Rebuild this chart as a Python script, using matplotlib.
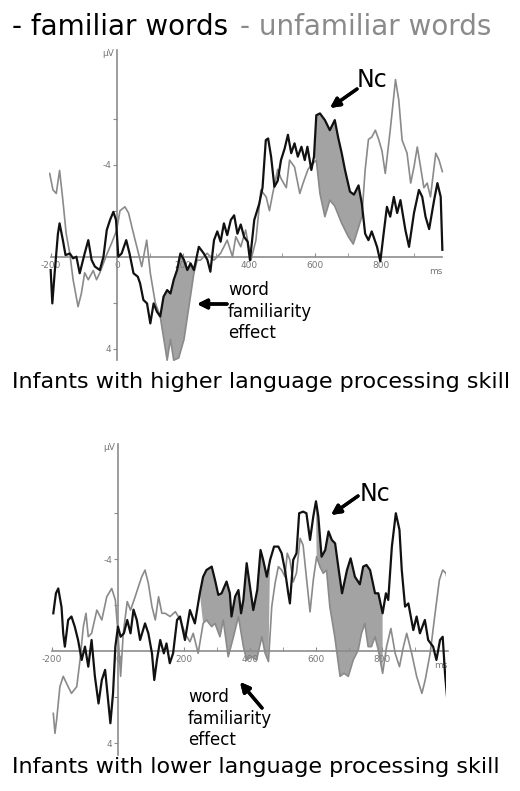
import numpy as np
import matplotlib
matplotlib.use("Agg")
import matplotlib.pyplot as plt

plt.rcParams['font.family'] = ['DejaVu Sans']

# ---- data (ms, microvolts; negative is drawn upwards) ----
# higher language processing skill
hi_fam_t = [-201, -196, -189, -179, -174, -164, -156, -143, -133, -123, -113, -98, -87, -77, -67, -52, -41, -31,
            -21, -11, -3, 4, 14, 28, 38, 50, 63, 70, 80, 91, 101, 111, 121, 131, 141, 152, 162, 172, 182, 192,
            203, 213, 223, 233, 248, 263, 274, 283, 294, 304, 314, 324, 334, 345, 355, 365, 375, 385, 396, 403,
            416, 431, 441, 451, 458, 467, 477, 487, 497, 508, 518, 528, 538, 548, 559, 569, 577, 589, 597, 604,
            615, 630, 645, 660, 670, 681, 691, 706, 718, 732, 742, 752, 762, 772, 788, 798, 808, 818, 828, 839,
            849, 859, 874, 885, 900, 915, 925, 935, 946, 961, 971, 981, 986]
hi_fam_v = [0.58, 2.03, 0.72, -1.0, -1.45, -0.72, -0.07, -0.14, 0.07, 0.0, 0.72, -0.14, -0.72, 0.14, 0.43, 0.58,
            0.0, -1.16, -1.6, -1.95, -1.6, 0.0, -0.14, -0.72, -0.14, 0.72, 0.87, 1.16, 1.88, 2.03, 2.9, 2.03, 2.39,
            2.6, 1.74, 1.45, 1.6, 1.0, 0.58, -0.14, 0.14, 0.58, 0.29, 0.58, -0.43, -0.14, 0.14, 0.65, -0.72, -1.1,
            -0.65, -1.45, -0.94, -1.6, -1.8, -1.0, -1.4, -0.87, -0.65, 0.15, -1.6, -2.3, -3.0, -5.07, -5.14, -4.35,
            -3.04, -3.3, -4.2, -4.7, -5.3, -4.5, -4.93, -4.35, -4.78, -4.2, -4.78, -3.77, -4.35, -6.15, -6.23,
            -5.94, -5.5, -5.94, -5.2, -4.5, -3.77, -2.83, -2.7, -3.1, -2.3, -1.0, -0.72, -1.1, -0.43, 0.2, -1.0,
            -2.17, -1.74, -2.6, -1.9, -2.46, -1.16, -0.43, -1.9, -2.9, -2.6, -1.74, -1.2, -2.46, -3.2, -2.6, -0.3]
hi_unf_t = [-204, -194, -184, -174, -164, -154, -143, -133, -118, -108, -98, -87, -72, -62, -52, -31, -16, -1, 9,
            24, 35, 45, 55, 65, 75, 90, 101, 116, 131, 152, 162, 172, 187, 203, 218, 233, 243, 253, 273, 294, 314,
            334, 350, 360, 375, 390, 406, 421, 436, 452, 462, 472, 487, 497, 513, 523, 538, 554, 564, 579, 594,
            604, 615, 630, 645, 660, 681, 701, 716, 726, 742, 752, 762, 772, 783, 793, 803, 813, 828, 844, 854,
            864, 879, 890, 900, 910, 920, 930, 940, 950, 966, 976, 986]
hi_unf_v = [-3.62, -2.9, -2.75, -3.75, -2.45, -1.0, -0.14, 1.0, 2.17, 1.6, 0.7, 1.0, 0.6, 1.0, 0.7, -0.1, -0.6,
            -1.15, -2.0, -2.17, -1.9, -1.3, -0.72, -0.15, 0.43, -0.72, 0.72, 2.0, 2.6, 4.5, 3.6, 4.5, 4.4, 3.6,
            2.17, 0.72, 0.15, 0.15, -0.15, 0.15, -0.15, -0.72, 0.0, -0.87, -0.43, -1.16, 0.15, -0.72, -2.9, -2.6,
            -2.0, -2.75, -3.8, -3.4, -3.0, -4.2, -3.9, -2.75, -3.2, -3.8, -4.06, -4.2, -2.75, -1.74, -2.46, -2.2,
            -1.45, -0.87, -0.55, -1.0, -1.74, -3.77, -5.1, -5.2, -5.5, -5.1, -4.6, -3.62, -5.5, -7.7, -6.8, -5.07,
            -4.5, -3.2, -3.9, -4.77, -3.9, -3.0, -3.2, -2.6, -4.5, -4.2, -3.7]

# lower language processing skill
lo_fam_t = [-196, -188, -181, -171, -166, -161, -151, -141, -131, -121, -110, -100, -90, -80, -70, -59, -49, -39,
            -28, -23, -15, -8, 0, 8, 18, 28, 38, 47, 57, 67, 82, 92, 103, 110, 118, 128, 139, 147, 157, 167, 179,
            188, 203, 218, 233, 248, 258, 268, 284, 294, 304, 314, 329, 339, 344, 355, 365, 373, 380, 390, 400,
            410, 422, 432, 440, 451, 461, 473, 486, 496, 506, 516, 521, 531, 541, 549, 561, 571, 582, 592, 600,
            607, 617, 628, 638, 648, 658, 669, 679, 694, 705, 718, 733, 743, 753, 764, 779, 789, 802, 812, 819,
            830, 842, 853, 860, 870, 880, 895, 905, 915, 930, 940, 955, 965, 976, 984, 991, 998]
lo_fam_v = [-1.64, -2.51, -2.72, -1.9, -0.77, -0.19, -1.35, -1.5, -1.06, -0.48, 0.39, -0.19, 0.68, -0.48, 1.1,
            2.28, 1.26, 0.82, 2.42, 3.14, 1.84, -0.19, -1.06, -0.62, -0.77, -1.35, -0.77, -1.8, -1.35, -0.48,
            -1.2, -0.77, 0.1, 1.26, 0.39, -0.48, 0.1, -0.33, 0.53, 0.1, -1.35, -1.5, -0.48, -1.78, -1.2, -2.51,
            -3.23, -3.52, -3.67, -3.09, -2.44, -2.51, -3.02, -2.51, -1.5, -2.37, -2.65, -1.64, -2.22, -3.82, -2.8,
            -1.78, -2.65, -4.39, -3.96, -3.23, -3.96, -4.54, -4.54, -4.25, -3.52, -2.51, -2.07, -3.96, -4.25,
            -5.99, -6.06, -5.99, -4.83, -5.86, -6.51, -5.86, -4.1, -4.39, -5.2, -4.83, -4.68, -3.52, -2.51, -3.52,
            -4.03, -3.23, -2.9, -3.67, -3.74, -3.52, -2.51, -2.51, -1.64, -2.51, -2.22, -4.54, -5.99, -5.27, -3.52,
            -1.93, -2.07, -0.91, -1.5, -0.77, -1.35, -0.48, -0.19, 0.39, -0.48, -0.62, 0.97, 2.13]
lo_unf_t = [-196, -191, -186, -176, -166, -151, -141, -125, -115, -105, -97, -90, -80, -64, -49, -34, -19, -8, 0,
            8, 16, 28, 38, 52, 62, 72, 82, 92, 103, 113, 123, 133, 143, 158, 174, 189, 203, 218, 228, 243, 258,
            268, 284, 294, 309, 319, 334, 350, 365, 380, 390, 405, 420, 436, 446, 456, 466, 476, 486, 496, 506,
            513, 521, 531, 541, 552, 561, 571, 582, 592, 602, 612, 622, 632, 642, 657, 673, 685, 698, 713, 728,
            738, 748, 758, 768, 779, 789, 802, 814, 827, 840, 853, 865, 875, 890, 905, 921, 931, 946, 961, 974,
            984, 994, 1001]
lo_unf_v = [2.71, 3.58, 3.0, 1.55, 1.1, 1.55, 1.84, 1.55, 0.39, -1.06, -1.64, -0.62, -0.77, -1.78, -1.35, -2.36,
            -2.72, -2.22, -0.77, 1.1, -0.77, -2.15, -1.78, -2.36, -2.8, -3.23, -3.52, -2.94, -1.93, -1.35, -2.36,
            -1.64, -1.64, -1.5, -1.71, -1.35, -0.77, -0.4, -0.77, 0.1, -1.2, -1.35, -1.06, -1.2, -0.62, -1.35,
            0.25, -0.62, -1.5, -0.19, 0.39, 0.25, 0.39, -0.62, 0.1, 0.46, -1.93, -2.94, -3.67, -3.52, -3.23,
            -4.25, -3.96, -3.0, -3.4, -4.9, -4.6, -3.2, -1.7, -3.1, -4.1, -3.67, -3.38, -3.52, -1.93, -0.62, 1.1,
            0.97, 1.1, 0.39, -0.04, -0.77, -1.2, -0.19, -0.19, -0.62, -0.04, 0.97, -0.19, -0.98, 0.1, 0.68, -0.19,
            -0.77, 0.1, 1.1, 1.84, 1.26, 0.1, -1.64, -3.09, -3.52, -3.38, -2.94]

# time windows of the shaded word familiarity effect / Nc difference
hi_windows = [(131, 243), (597, 745)]
lo_windows = [(248, 461), (594, 802)]

x_ticks = [-200, 0, 200, 400, 600, 800]
x_labels = ['-200', '0', '200', '400', '600', '800']
captions = ['Infants with higher language processing skill',
            'Infants with lower language processing skill']

AX_GREY = '#8c8c8c'
LINE_GREY = '#8a8a8a'
FILL = '#a3a3a3'


def shade(ax, tb, vb, tg, vg, lo, hi):
    tb, vb, tg, vg = map(np.asarray, (tb, vb, tg, vg))
    mb = (tb >= lo) & (tb <= hi)
    mg = (tg >= lo) & (tg <= hi)
    xs = np.r_[tb[mb], tg[mg][::-1]]
    ys = np.r_[vb[mb], vg[mg][::-1]]
    ax.fill(xs, ys, color=FILL, lw=0, zorder=1)


def erp_panel(ax, tb, vb, tg, vg, windows, x_end):
    for lo, hi in windows:
        shade(ax, tb, vb, tg, vg, lo, hi)
    ax.plot(tg, vg, color=LINE_GREY, lw=1.2, zorder=3)
    ax.plot(tb, vb, color='#111111', lw=1.6, zorder=4)

    ax.set_xlim(-205, 995)
    ax.set_ylim(4.6, -9.2)
    for s in ['top', 'right']:
        ax.spines[s].set_visible(False)
    ax.spines['left'].set_position(('data', 0))
    ax.spines['bottom'].set_position(('data', 0))
    ax.spines['left'].set_bounds(4.5, -9)
    ax.spines['bottom'].set_bounds(-200, x_end)
    for s in ['left', 'bottom']:
        ax.spines[s].set_color(AX_GREY)
        ax.spines[s].set_linewidth(1.2)
        ax.spines[s].set_zorder(2)

    ax.set_xticks(x_ticks)
    ax.set_xticklabels(x_labels)
    ax.set_xticks(np.arange(-100, 1000, 200), minor=True)
    ax.tick_params(axis='x', which='both', direction='in', length=3, color=AX_GREY,
                   labelsize=6.5, labelcolor='#777777', pad=3)
    ax.set_yticks([-6, -4, -2, 2, 4])
    ax.set_yticklabels(['', '-4', '', '', '4'])
    ax.tick_params(axis='y', direction='out', length=3, color=AX_GREY,
                   labelsize=6.5, labelcolor='#777777', pad=1)
    for lab in ax.get_xticklabels():
        lab.set_zorder(0)
    ax.text(x_end, 0.45, 'ms', ha='right', va='top', fontsize=6.5, color='#777777')
    ax.text(-8, -8.85, 'µV', ha='right', va='center', fontsize=6.5, color='#777777')


fig = plt.figure(figsize=(5.2, 7.91), dpi=100)
ax_hi = fig.add_axes([0.0949, 0.5417, 0.7615, 0.4013])
ax_lo = fig.add_axes([0.0968, 0.0432, 0.7615, 0.4013])

erp_panel(ax_hi, hi_fam_t, hi_fam_v, hi_unf_t, hi_unf_v, hi_windows, 985)
erp_panel(ax_lo, lo_fam_t, lo_fam_v, lo_unf_t, lo_unf_v, lo_windows, 1000)

# legend-like header
fig.text(12 / 520, 1 - 35 / 791, '- familiar words', fontsize=20, color='black', va='baseline')
fig.text(240 / 520, 1 - 35 / 791, '- unfamiliar words', fontsize=20, color='#8a8a8a', va='baseline')

fig.text(12 / 520, 1 - 388 / 791, captions[0], fontsize=16, va='baseline')
fig.text(12 / 520, 1 - 773 / 791, captions[1], fontsize=16, va='baseline')

# annotations (figure pixel positions)
H = 791
arrow = dict(arrowstyle='-|>', lw=2.4, color='black', mutation_scale=14, shrinkA=0, shrinkB=0)
fig.text(357 / 520, 1 - 68 / H, 'Nc', fontsize=17, va='top', ha='left')
fig.text(360 / 520, 1 - 482 / H, 'Nc', fontsize=17, va='top', ha='left')
fig.add_artist(plt.annotate('', xy=(330, H - 108), xytext=(357, H - 89),
                            xycoords='figure pixels', textcoords='figure pixels', arrowprops=arrow))
fig.add_artist(plt.annotate('', xy=(331, H - 515), xytext=(358, H - 496),
                            xycoords='figure pixels', textcoords='figure pixels', arrowprops=arrow))

fig.text(228 / 520, 1 - 281 / H, 'word\nfamiliarity\neffect', fontsize=12, va='top', ha='left',
         linespacing=1.25)
fig.text(188 / 520, 1 - 688 / H, 'word\nfamiliarity\neffect', fontsize=12, va='top', ha='left',
         linespacing=1.25)
fig.add_artist(plt.annotate('', xy=(197, H - 304), xytext=(227, H - 304),
                            xycoords='figure pixels', textcoords='figure pixels', arrowprops=arrow))
fig.add_artist(plt.annotate('', xy=(240, H - 682), xytext=(262, H - 708),
                            xycoords='figure pixels', textcoords='figure pixels', arrowprops=arrow))

fig.savefig('out.png', dpi=100)
